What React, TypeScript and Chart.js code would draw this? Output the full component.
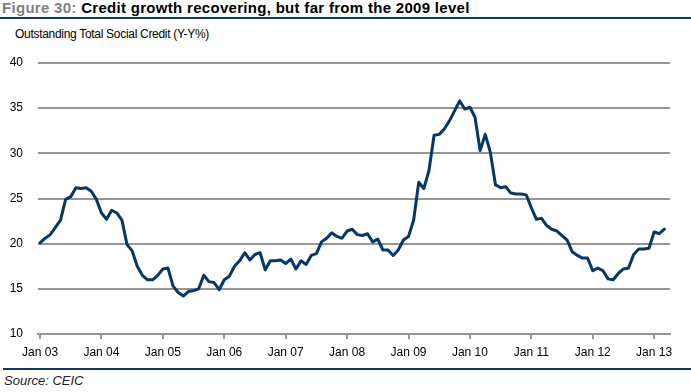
import React, { useEffect, useRef } from "react";
import { Chart, registerables } from "chart.js";

Chart.register(...registerables);

// Year tick labels (January of each year) and their month offsets from Jan 2003
const yearLabels = ["Jan 03", "Jan 04", "Jan 05", "Jan 06", "Jan 07", "Jan 08", "Jan 09", "Jan 10", "Jan 11", "Jan 12", "Jan 13"];
const yearTickMonths = [0, 12, 24, 36, 48, 60, 72, 84, 96, 108, 120];

// Outstanding Total Social Credit, Y-Y %, monthly Jan 2003 .. Mar 2013
const creditGrowth = [
  20.1, 20.6, 21.0, 21.8, 22.6, 24.9, 25.2, 26.2, 26.1, 26.2, 25.8, 24.9,
  23.4, 22.7, 23.7, 23.4, 22.6, 19.9, 19.2, 17.5, 16.5, 16.0, 16.0, 16.5,
  17.2, 17.3, 15.3, 14.6, 14.2, 14.7, 14.8, 15.0, 16.5, 15.8, 15.7, 14.9,
  16.0, 16.4, 17.5, 18.1, 19.0, 18.2, 18.8, 19.0, 17.1, 18.1, 18.1, 18.2,
  17.8, 18.3, 17.2, 18.1, 17.7, 18.7, 18.9, 20.2, 20.6, 21.2, 20.8, 20.6,
  21.4, 21.6, 21.0, 20.9, 21.1, 20.2, 20.5, 19.3, 19.3, 18.7, 19.3, 20.4,
  20.8, 22.6, 26.8, 26.1, 28.1, 32.0, 32.1, 32.7, 33.6, 34.7, 35.8, 34.9,
  35.1, 34.0, 30.3, 32.1, 30.1, 26.5, 26.2, 26.3, 25.6, 25.5, 25.5, 25.4,
  24.0, 22.7, 22.8, 22.0, 21.6, 21.4, 20.9, 20.4, 19.1, 18.7, 18.4, 18.4,
  17.0, 17.3, 17.0, 16.1, 16.0, 16.7, 17.2, 17.3, 18.8, 19.4, 19.4, 19.5,
  21.3, 21.1, 21.6,
];

// Month index (category position) for each value
const monthIndex = creditGrowth.map((_, i) => i);

const FONT = "'Liberation Sans', Arial, sans-serif";
const NAVY = "#0E3A63";
const GRID = "#969696";

export default function App() {
  const canvasRef = useRef<HTMLCanvasElement | null>(null);

  useEffect(() => {
    if (!canvasRef.current) return;
    const points = monthIndex.map((m, i) => ({ x: m, y: creditGrowth[i] }));
    const chart = new Chart(canvasRef.current, {
      type: "line",
      data: {
        datasets: [
          {
            data: points,
            borderColor: "#053866",
            borderWidth: 3,
            pointRadius: 0,
            tension: 0,
            fill: false,
            borderJoinStyle: "round",
            borderCapStyle: "round",
          },
        ],
      },
      options: {
        animation: false,
        responsive: false,
        maintainAspectRatio: false,
        layout: { padding: { top: 23, right: 21, left: 0, bottom: 0 } },
        plugins: { legend: { display: false }, tooltip: { enabled: false } },
        scales: {
          x: {
            type: "linear",
            min: -0.4,
            max: 123.1,
            afterBuildTicks: (s: any) => {
              s.ticks = yearTickMonths.map((v) => ({ value: v }));
            },
            afterFit: (s: any) => {
              s.height = 36;
            },
            ticks: {
              autoSkip: false,
              maxRotation: 0,
              padding: 6,
              color: "#000",
              font: { family: FONT, size: 12 },
              callback: (_v: any, i: number) => yearLabels[i],
            },
            grid: { drawOnChartArea: false, drawTicks: true, tickLength: 5, color: GRID, lineWidth: 2 },
            border: { display: true, color: GRID, width: 2 },
          },
          y: {
            min: 10,
            max: 40,
            afterFit: (s: any) => {
              s.width = 38;
            },
            ticks: { stepSize: 5, padding: 15, color: "#000", font: { family: FONT, size: 12 } },
            grid: { color: GRID, lineWidth: 2, drawTicks: false },
            border: { display: false },
          },
        },
      },
    });
    return () => chart.destroy();
  }, []);

  return (
    <div style={{ position: "absolute", left: 0, top: 0, width: 691, height: 392, background: "#fff", fontFamily: FONT, overflow: "hidden" }}>
      <div style={{ position: "absolute", left: 2, top: 0, fontSize: 15, lineHeight: "15px", fontWeight: "bold", letterSpacing: "0.3px", whiteSpace: "nowrap" }}>
        <span style={{ color: "#7F7F7F" }}>Figure 30: </span>
        <span style={{ color: "#000" }}>Credit growth recovering, but far from the 2009 level</span>
      </div>
      <div style={{ position: "absolute", left: 0, top: 17, width: 691, height: 2, background: NAVY }} />
      <div style={{ position: "absolute", left: 15, top: 28, fontSize: 12, lineHeight: "12px", letterSpacing: "-0.3px", color: "#000", whiteSpace: "nowrap" }}>
        Outstanding Total Social Credit (Y-Y%)
      </div>
      <canvas ref={canvasRef} width={691} height={330} style={{ position: "absolute", left: 0, top: 40, width: 691, height: 330 }} />
      <div style={{ position: "absolute", left: 3, top: 368, width: 688, height: 2, background: NAVY }} />
      <div style={{ position: "absolute", left: 4, top: 374, fontSize: 13, lineHeight: "13px", fontStyle: "italic", color: "#222", whiteSpace: "nowrap" }}>
        Source: CEIC
      </div>
    </div>
  );
}
